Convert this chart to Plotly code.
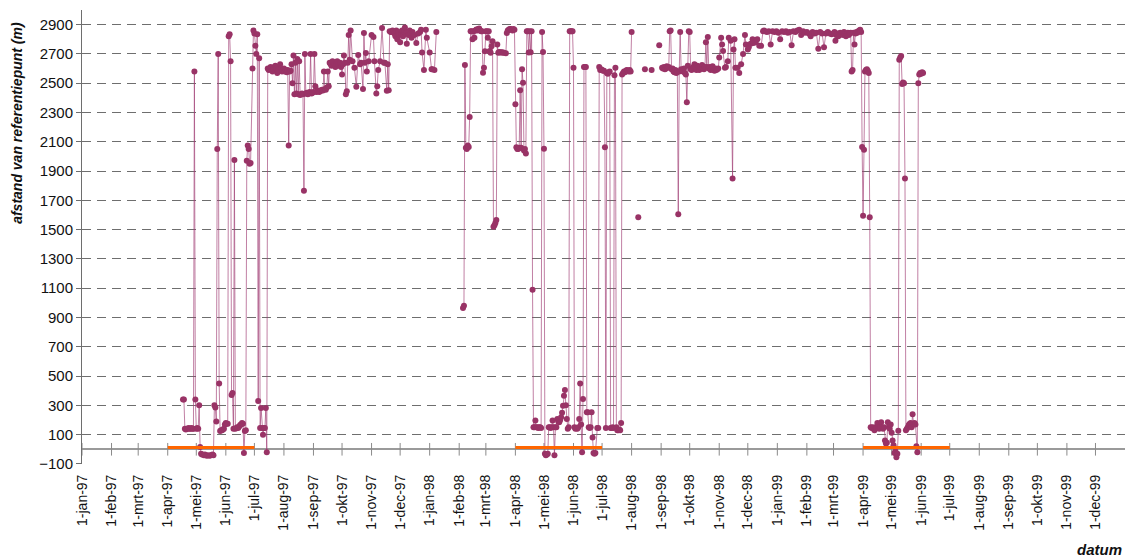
import plotly.graph_objects as go

# ---------------- data ----------------
seg_1997 = [
    ("1997-04-17", 340), ("1997-04-18", 340), ("1997-04-19", 140), ("1997-04-20", 135),
    ("1997-04-21", 140), ("1997-04-22", 140), ("1997-04-23", 145), ("1997-04-24", 140),
    ("1997-04-25", 140), ("1997-04-26", 145), ("1997-04-27", 140), ("1997-04-28", 140),
    ("1997-04-29", 2580), ("1997-04-30", 340), ("1997-05-01", 140), ("1997-05-02", 145),
    ("1997-05-03", 140), ("1997-05-04", 300), ("1997-05-05", 15), ("1997-05-06", -30),
    ("1997-05-07", -35), ("1997-05-09", -40), ("1997-05-10", -35), ("1997-05-12", -45),
    ("1997-05-13", -40), ("1997-05-15", -45), ("1997-05-16", -40), ("1997-05-18", -35),
    ("1997-05-19", -40), ("1997-05-20", 300), ("1997-05-21", 285), ("1997-05-22", 190),
    ("1997-05-23", 2050), ("1997-05-24", 2700), ("1997-05-25", 450), ("1997-05-26", 125),
    ("1997-05-27", 130), ("1997-05-28", 130), ("1997-05-29", 135), ("1997-05-30", 140),
    ("1997-05-31", 170), ("1997-06-01", 180), ("1997-06-02", 175), ("1997-06-03", 175),
    ("1997-06-04", 2820), ("1997-06-05", 2835), ("1997-06-06", 2650), ("1997-06-07", 370),
    ("1997-06-08", 385), ("1997-06-09", 140), ("1997-06-10", 1975), ("1997-06-11", 140),
    ("1997-06-12", 145), ("1997-06-13", 150), ("1997-06-14", 145), ("1997-06-15", 155),
    ("1997-06-16", 165), ("1997-06-17", 170), ("1997-06-18", 180), ("1997-06-19", 175),
    ("1997-06-20", -25), ("1997-06-21", 125), ("1997-06-22", 130), ("1997-06-23", 1970),
    ("1997-06-24", 2075), ("1997-06-25", 2050), ("1997-06-26", 1950), ("1997-06-27", 1955),
    ("1997-06-29", 2600), ("1997-06-30", 2860), ("1997-07-01", 2840), ("1997-07-02", 2755),
    ("1997-07-03", 2700), ("1997-07-04", 2835), ("1997-07-05", 330), ("1997-07-06", 2670),
    ("1997-07-07", 145), ("1997-07-08", 282), ("1997-07-09", 145), ("1997-07-10", 100),
    ("1997-07-11", 145), ("1997-07-12", 145), ("1997-07-13", 282), ("1997-07-14", -20),
    ("1997-07-15", 2600), ("1997-07-16", 2590), ("1997-07-17", 2600), ("1997-07-18", 2610),
    ("1997-07-19", 2590), ("1997-07-20", 2580), ("1997-07-21", 2600), ("1997-07-22", 2610),
    ("1997-07-23", 2620), ("1997-07-24", 2600), ("1997-07-25", 2570), ("1997-07-26", 2590),
    ("1997-07-27", 2610), ("1997-07-28", 2630), ("1997-07-29", 2600), ("1997-07-30", 2580),
    ("1997-07-31", 2590), ("1997-08-01", 2600), ("1997-08-02", 2580), ("1997-08-03", 2590),
    ("1997-08-04", 2575), ("1997-08-05", 2590), ("1997-08-06", 2075), ("1997-08-07", 2580),
    ("1997-08-08", 2585), ("1997-08-09", 2630), ("1997-08-10", 2500), ("1997-08-11", 2690),
    ("1997-08-12", 2425), ("1997-08-13", 2640), ("1997-08-14", 2430), ("1997-08-15", 2665),
    ("1997-08-16", 2425), ("1997-08-17", 2650), ("1997-08-18", 2420), ("1997-08-19", 2425),
    ("1997-08-20", 2430), ("1997-08-21", 2425), ("1997-08-22", 1765), ("1997-08-23", 2700),
    ("1997-08-24", 2430), ("1997-08-25", 2435), ("1997-08-26", 2425), ("1997-08-27", 2430),
    ("1997-08-28", 2440), ("1997-08-29", 2700), ("1997-08-30", 2430), ("1997-08-31", 2435),
    ("1997-09-01", 2440), ("1997-09-02", 2700), ("1997-09-03", 2480), ("1997-09-04", 2440),
    ("1997-09-05", 2445), ("1997-09-06", 2450), ("1997-09-07", 2440), ("1997-09-08", 2445),
    ("1997-09-09", 2450), ("1997-09-10", 2455), ("1997-09-11", 2450), ("1997-09-12", 2580),
    ("1997-09-13", 2460), ("1997-09-14", 2455), ("1997-09-15", 2470), ("1997-09-16", 2580),
    ("1997-09-17", 2480), ("1997-09-18", 2640), ("1997-09-19", 2630), ("1997-09-20", 2620),
    ("1997-09-21", 2650), ("1997-09-22", 2640), ("1997-09-23", 2625), ("1997-09-24", 2610),
    ("1997-09-25", 2635), ("1997-09-26", 2650), ("1997-09-27", 2630), ("1997-09-28", 2620),
    ("1997-09-29", 2640), ("1997-09-30", 2610), ("1997-10-01", 2560), ("1997-10-02", 2630),
    ("1997-10-03", 2690), ("1997-10-04", 2640), ("1997-10-05", 2425), ("1997-10-06", 2445),
    ("1997-10-07", 2640), ("1997-10-08", 2830), ("1997-10-09", 2660), ("1997-10-10", 2860),
    ("1997-10-12", 2650), ("1997-10-14", 2606), ("1997-10-16", 2475), ("1997-10-18", 2692),
    ("1997-10-20", 2630), ("1997-10-21", 2640), ("1997-10-23", 2460), ("1997-10-24", 2843),
    ("1997-10-25", 2640), ("1997-10-26", 2707), ("1997-10-27", 2580), ("1997-10-29", 2650),
    ("1997-11-01", 2830), ("1997-11-03", 2815), ("1997-11-04", 2650), ("1997-11-06", 2430),
    ("1997-11-07", 2480), ("1997-11-08", 2590), ("1997-11-10", 2650), ("1997-11-12", 2877),
    ("1997-11-14", 2640), ("1997-11-15", 2640), ("1997-11-17", 2448), ("1997-11-18", 2630),
    ("1997-11-19", 2452), ("1997-11-20", 2855), ("1997-11-21", 2850), ("1997-11-22", 2850),
    ("1997-11-23", 2860), ("1997-11-24", 2855), ("1997-11-25", 2840), ("1997-11-26", 2820),
    ("1997-11-27", 2860), ("1997-11-28", 2800), ("1997-11-29", 2850), ("1997-11-30", 2830),
    ("1997-12-01", 2780), ("1997-12-02", 2840), ("1997-12-03", 2860), ("1997-12-04", 2820),
    ("1997-12-05", 2850), ("1997-12-06", 2880), ("1997-12-07", 2840), ("1997-12-08", 2770),
    ("1997-12-09", 2850), ("1997-12-10", 2830), ("1997-12-11", 2860), ("1997-12-12", 2840),
    ("1997-12-13", 2810), ("1997-12-14", 2850), ("1997-12-16", 2830), ("1997-12-18", 2775),
    ("1997-12-20", 2840), ("1997-12-22", 2850), ("1997-12-23", 2865), ("1997-12-24", 2710),
    ("1997-12-26", 2590), ("1997-12-28", 2865), ("1997-12-29", 2810), ("1998-01-01", 2710),
    ("1998-01-03", 2595), ("1998-01-04", 2595), ("1998-01-06", 2590), ("1998-01-08", 2850),
]

seg_1998 = [
    ("1998-02-05", 965), ("1998-02-06", 980), ("1998-02-07", 2625), ("1998-02-08", 2060),
    ("1998-02-09", 2050), ("1998-02-10", 2075), ("1998-02-11", 2065), ("1998-02-12", 2270),
    ("1998-02-13", 2855), ("1998-02-14", 2855), ("1998-02-15", 2800), ("1998-02-16", 2855),
    ("1998-02-17", 2810), ("1998-02-18", 2860), ("1998-02-19", 2866), ("1998-02-20", 2860),
    ("1998-02-21", 2870), ("1998-02-22", 2873), ("1998-02-23", 2860), ("1998-02-24", 2855),
    ("1998-02-25", 2855), ("1998-02-26", 2572), ("1998-02-27", 2606), ("1998-02-28", 2719),
    ("1998-03-01", 2855), ("1998-03-02", 2855), ("1998-03-03", 2810), ("1998-03-04", 2855),
    ("1998-03-05", 2720), ("1998-03-06", 2708), ("1998-03-07", 2753), ("1998-03-08", 2787),
    ("1998-03-09", 1520), ("1998-03-10", 1530), ("1998-03-11", 1545), ("1998-03-12", 1565),
    ("1998-03-13", 2765), ("1998-03-14", 2708), ("1998-03-15", 2714), ("1998-03-16", 2710),
    ("1998-03-17", 2712), ("1998-03-18", 2710), ("1998-03-19", 2710), ("1998-03-20", 2708),
    ("1998-03-22", 2705), ("1998-03-23", 2843), ("1998-03-24", 2860), ("1998-03-25", 2865),
    ("1998-03-26", 2870), ("1998-03-27", 2870), ("1998-03-28", 2865), ("1998-03-29", 2860),
    ("1998-03-30", 2870), ("1998-03-31", 2865), ("1998-04-01", 2357), ("1998-04-02", 2063),
    ("1998-04-03", 2050), ("1998-04-04", 2050), ("1998-04-05", 2060), ("1998-04-06", 2452),
    ("1998-04-07", 2060), ("1998-04-08", 2595), ("1998-04-09", 2504), ("1998-04-10", 2040),
    ("1998-04-11", 2050), ("1998-04-12", 2020), ("1998-04-13", 2855), ("1998-04-14", 2855),
    ("1998-04-15", 2710), ("1998-04-16", 2855), ("1998-04-17", 2712), ("1998-04-18", 2855),
    ("1998-04-19", 1090), ("1998-04-20", 150), ("1998-04-21", 150), ("1998-04-22", 196),
    ("1998-04-23", 150), ("1998-04-24", 150), ("1998-04-25", 145), ("1998-04-26", 150),
    ("1998-04-27", 150), ("1998-04-28", 145), ("1998-04-29", 2850), ("1998-04-30", 2714),
    ("1998-05-01", 2052), ("1998-05-02", -30), ("1998-05-03", -40), ("1998-05-04", -35),
    ("1998-05-05", -30), ("1998-05-06", 150), ("1998-05-07", 150), ("1998-05-08", 145),
    ("1998-05-09", 150), ("1998-05-10", 196), ("1998-05-11", 150), ("1998-05-12", -40),
    ("1998-05-13", 150), ("1998-05-14", 150), ("1998-05-15", 207), ("1998-05-16", 190),
    ("1998-05-17", 185), ("1998-05-18", 200), ("1998-05-19", 218), ("1998-05-20", 250),
    ("1998-05-21", 298), ("1998-05-22", 366), ("1998-05-23", 405), ("1998-05-24", 300),
    ("1998-05-25", 207), ("1998-05-26", 140), ("1998-05-27", 150), ("1998-05-28", 2855),
    ("1998-05-29", 2855), ("1998-05-30", 2855), ("1998-05-31", 2855), ("1998-06-01", 2606),
    ("1998-06-02", 150), ("1998-06-03", 140), ("1998-06-04", 145), ("1998-06-05", 140),
    ("1998-06-06", 150), ("1998-06-07", 207), ("1998-06-08", 450), ("1998-06-09", 170),
    ("1998-06-10", -20), ("1998-06-11", 343), ("1998-06-12", 2610), ("1998-06-13", 2610),
    ("1998-06-14", 2610), ("1998-06-15", 253), ("1998-06-16", 253), ("1998-06-17", 150),
    ("1998-06-18", 145), ("1998-06-19", 150), ("1998-06-20", 253), ("1998-06-21", 80),
    ("1998-06-22", -25), ("1998-06-23", -30), ("1998-06-24", -25), ("1998-06-26", 145),
    ("1998-06-27", 145), ("1998-06-28", 2610), ("1998-06-29", 2590), ("1998-06-30", 2595),
    ("1998-07-01", 2590), ("1998-07-02", 2585), ("1998-07-03", 2585), ("1998-07-04", 2063),
    ("1998-07-05", 145), ("1998-07-06", 2570), ("1998-07-07", 2565), ("1998-07-08", 2575),
    ("1998-07-09", 2580), ("1998-07-10", 145), ("1998-07-11", 145), ("1998-07-12", 150),
    ("1998-07-13", 145), ("1998-07-14", 2554), ("1998-07-15", 2606), ("1998-07-16", 150),
    ("1998-07-17", 130), ("1998-07-18", 130), ("1998-07-19", 135), ("1998-07-20", 130),
    ("1998-07-21", 180), ("1998-07-22", 2560), ("1998-07-23", 2570), ("1998-07-24", 2580),
    ("1998-07-25", 2575), ("1998-07-26", 2585), ("1998-07-27", 2590), ("1998-07-28", 2585),
    ("1998-07-29", 2580), ("1998-07-30", 2590), ("1998-07-31", 2580), ("1998-08-01", 2850),
]

# isolated readings in August 1998 (no connecting line)
iso_1998 = [("1998-08-08", 1585), ("1998-08-15", 2595), ("1998-08-22", 2590), ("1998-08-30", 2760)]

seg_1998_1999 = [
    ("1998-09-02", 2606), ("1998-09-03", 2600), ("1998-09-04", 2610), ("1998-09-05", 2595),
    ("1998-09-06", 2600), ("1998-09-07", 2615), ("1998-09-08", 2605), ("1998-09-09", 2610),
    ("1998-09-10", 2855), ("1998-09-11", 2860), ("1998-09-12", 2595), ("1998-09-13", 2600),
    ("1998-09-14", 2580), ("1998-09-15", 2575), ("1998-09-16", 2590), ("1998-09-17", 2570),
    ("1998-09-18", 2580), ("1998-09-19", 1605), ("1998-09-20", 2580), ("1998-09-21", 2850),
    ("1998-09-22", 2595), ("1998-09-23", 2590), ("1998-09-24", 2580), ("1998-09-25", 2600),
    ("1998-09-26", 2570), ("1998-09-27", 2560), ("1998-09-28", 2370), ("1998-09-29", 2620),
    ("1998-09-30", 2855), ("1998-10-01", 2850), ("1998-10-02", 2595), ("1998-10-03", 2590),
    ("1998-10-04", 2600), ("1998-10-05", 2610), ("1998-10-06", 2630), ("1998-10-07", 2600),
    ("1998-10-08", 2590), ("1998-10-09", 2620), ("1998-10-10", 2605), ("1998-10-11", 2590),
    ("1998-10-12", 2610), ("1998-10-13", 2600), ("1998-10-14", 2625), ("1998-10-15", 2600),
    ("1998-10-16", 2595), ("1998-10-17", 2610), ("1998-10-18", 2780), ("1998-10-19", 2610),
    ("1998-10-20", 2815), ("1998-10-21", 2600), ("1998-10-22", 2610), ("1998-10-23", 2590),
    ("1998-10-24", 2600), ("1998-10-25", 2615), ("1998-10-26", 2590), ("1998-10-27", 2585),
    ("1998-10-28", 2600), ("1998-10-29", 2590), ("1998-10-30", 2595), ("1998-10-31", 2600),
    ("1998-11-01", 2675), ("1998-11-03", 2810), ("1998-11-04", 2765), ("1998-11-05", 2720),
    ("1998-11-07", 2605), ("1998-11-08", 2610), ("1998-11-10", 2650), ("1998-11-11", 2810),
    ("1998-11-13", 2790), ("1998-11-15", 1850), ("1998-11-16", 2730), ("1998-11-17", 2800),
    ("1998-11-18", 2605), ("1998-11-20", 2605), ("1998-11-22", 2570), ("1998-11-24", 2630),
    ("1998-11-26", 2700), ("1998-11-28", 2830), ("1998-11-29", 2765), ("1998-12-01", 2730),
    ("1998-12-02", 2745), ("1998-12-04", 2770), ("1998-12-06", 2800), ("1998-12-07", 2775),
    ("1998-12-09", 2780), ("1998-12-11", 2800), ("1998-12-13", 2755), ("1998-12-15", 2755),
    ("1998-12-17", 2855), ("1998-12-18", 2860), ("1998-12-19", 2855), ("1998-12-21", 2850),
    ("1998-12-23", 2855), ("1998-12-25", 2765), ("1998-12-27", 2855), ("1998-12-29", 2850),
    ("1998-12-31", 2855), ("1999-01-02", 2845), ("1999-01-04", 2800), ("1999-01-06", 2855),
    ("1999-01-08", 2850), ("1999-01-10", 2855), ("1999-01-12", 2845), ("1999-01-14", 2850),
    ("1999-01-16", 2760), ("1999-01-18", 2855), ("1999-01-20", 2850), ("1999-01-22", 2860),
    ("1999-01-24", 2865), ("1999-01-26", 2830), ("1999-01-28", 2855), ("1999-01-30", 2845),
    ("1999-02-01", 2850), ("1999-02-03", 2840), ("1999-02-05", 2820), ("1999-02-07", 2850),
    ("1999-02-09", 2840), ("1999-02-11", 2845), ("1999-02-13", 2735), ("1999-02-15", 2850),
    ("1999-02-17", 2840), ("1999-02-19", 2745), ("1999-02-21", 2840), ("1999-02-23", 2850),
    ("1999-02-25", 2840), ("1999-02-27", 2835), ("1999-03-01", 2840), ("1999-03-02", 2850),
    ("1999-03-03", 2790), ("1999-03-04", 2830), ("1999-03-05", 2840), ("1999-03-06", 2820),
    ("1999-03-07", 2830), ("1999-03-08", 2845), ("1999-03-09", 2835), ("1999-03-10", 2840),
    ("1999-03-11", 2830), ("1999-03-12", 2850), ("1999-03-13", 2840), ("1999-03-14", 2820),
    ("1999-03-15", 2835), ("1999-03-16", 2845), ("1999-03-17", 2830), ("1999-03-18", 2840),
    ("1999-03-19", 2845), ("1999-03-20", 2580), ("1999-03-21", 2590), ("1999-03-22", 2845),
    ("1999-03-23", 2765), ("1999-03-24", 2840), ("1999-03-25", 2850), ("1999-03-26", 2845),
    ("1999-03-27", 2855), ("1999-03-28", 2860), ("1999-03-29", 2865), ("1999-03-30", 2850),
    ("1999-03-31", 2065), ("1999-04-01", 1595), ("1999-04-02", 2045), ("1999-04-03", 2580),
    ("1999-04-04", 2590), ("1999-04-05", 2595), ("1999-04-06", 2585), ("1999-04-07", 2570),
    ("1999-04-08", 1585), ("1999-04-09", 150), ("1999-04-10", 145), ("1999-04-11", 150),
    ("1999-04-12", 140), ("1999-04-13", 130), ("1999-04-14", 150), ("1999-04-15", 145),
    ("1999-04-16", 180), ("1999-04-17", 150), ("1999-04-18", 140), ("1999-04-19", 150),
    ("1999-04-20", 185), ("1999-04-21", 150), ("1999-04-22", 140), ("1999-04-23", 150),
    ("1999-04-24", 60), ("1999-04-25", 40), ("1999-04-26", 45), ("1999-04-27", 185),
    ("1999-04-28", 150), ("1999-04-29", 140), ("1999-04-30", 170), ("1999-05-01", 113),
    ("1999-05-02", 60), ("1999-05-03", 27), ("1999-05-04", -25), ("1999-05-05", -15),
    ("1999-05-06", -55), ("1999-05-07", -30), ("1999-05-08", 127), ("1999-05-09", 2660),
    ("1999-05-10", 2675), ("1999-05-11", 2685), ("1999-05-12", 2495), ("1999-05-13", 2505),
    ("1999-05-14", 2500), ("1999-05-15", 1850), ("1999-05-16", 130), ("1999-05-17", 140),
    ("1999-05-18", 150), ("1999-05-19", 165), ("1999-05-20", 175), ("1999-05-21", 180),
    ("1999-05-22", 150), ("1999-05-23", 240), ("1999-05-24", 175), ("1999-05-25", 180),
    ("1999-05-26", 170), ("1999-05-27", 20), ("1999-05-28", -20), ("1999-05-29", 2500),
    ("1999-05-30", 2560), ("1999-05-31", 2570), ("1999-06-01", 2565), ("1999-06-02", 2575),
    ("1999-06-03", 2570),
]

# orange reference periods (1 april - 1 july)
period_starts = ["1997-04-01", "1998-04-01", "1999-04-01"]
period_ends = ["1997-07-01", "1998-07-01", "1999-07-01"]
period_level = 12

month_names = ["jan", "feb", "mrt", "apr", "mei", "jun", "jul", "aug", "sep", "okt", "nov", "dec"]
years = [1997, 1998, 1999]
y_ticks = list(range(-100, 3000, 200))

# ---------------- build ----------------
xs, ys = [], []
for seg in [seg_1997, seg_1998]:
    xs += [d for d, v in seg] + [None]
    ys += [v for d, v in seg] + [None]
for d, v in iso_1998:
    xs += [d, None]
    ys += [v, None]
xs += [d for d, v in seg_1998_1999]
ys += [v for d, v in seg_1998_1999]

tick_vals, tick_text = [], []
for yr in years:
    for i, m in enumerate(month_names):
        tick_vals.append(f"{yr}-{i+1:02d}-01")
        tick_text.append(f"1-{m}-{str(yr)[2:]}")

px, py = [], []
for s, e in zip(period_starts, period_ends):
    px += [s, e, None]
    py += [period_level, period_level, None]

fig = go.Figure()
# crossing tick marks on the zero axis
fig.add_trace(go.Scatter(
    x=tick_vals, y=[0] * len(tick_vals), mode="markers",
    marker=dict(symbol="line-ns", size=9, line=dict(width=1, color="#8a8a8a")),
    hoverinfo="skip", showlegend=False))
fig.add_trace(go.Scatter(
    x=xs, y=ys, mode="lines+markers", connectgaps=False,
    line=dict(color="rgba(160,60,115,0.65)", width=1),
    marker=dict(color="#993366", size=6),
    showlegend=False))
fig.add_trace(go.Scatter(
    x=px, y=py, mode="lines", line=dict(color="#FF6600", width=3),
    showlegend=False, hoverinfo="skip"))

font_family = "Liberation Sans, Arial, sans-serif"
fig.update_layout(
    width=1125, height=559,
    margin=dict(l=82, r=0, t=10, b=95),
    paper_bgcolor="white", plot_bgcolor="white",
    font=dict(family=font_family, color="#111111"),
    xaxis=dict(
        type="date", range=["1997-01-01", "2000-01-01"],
        tickmode="array", tickvals=tick_vals, ticktext=tick_text,
        tickangle=-90, tickfont=dict(size=14, family=font_family, color="#111111"),
        showgrid=False, showline=False, zeroline=False,
        ticks="outside", ticklen=4, tickcolor="rgba(0,0,0,0)",
        automargin=False,
    ),
    yaxis=dict(
        range=[-100.5, 3000],
        tickmode="array", tickvals=y_ticks,
        tickfont=dict(size=15, family=font_family, color="#111111"),
        showgrid=True, gridcolor="#6e6e6e", gridwidth=1, griddash="9px,6px",
        showline=True, linecolor="#6e6e6e", linewidth=1,
        ticks="outside", ticklen=5, tickcolor="#6e6e6e",
        zeroline=True, zerolinecolor="#9a9a9a", zerolinewidth=2,
        automargin=False,
    ),
    annotations=[
        dict(text="<b><i>afstand van referentiepunt (m)</i></b>", xref="paper", yref="paper",
             x=-0.0625, y=0.751, textangle=-90, showarrow=False,
             font=dict(size=14, family=font_family, color="#111111"),
             xanchor="center", yanchor="middle"),
        dict(text="<b><i>datum</i></b>", xref="paper", yref="paper",
             x=0.976, y=-0.189, showarrow=False,
             font=dict(size=15, family=font_family, color="#111111"),
             xanchor="center", yanchor="middle"),
    ],
)

fig.write_html(
    "out.html",
    config={"displayModeBar": False},
    post_script="document.documentElement.style.margin='0';document.body.style.margin='0';document.body.style.overflow='hidden';",
)
